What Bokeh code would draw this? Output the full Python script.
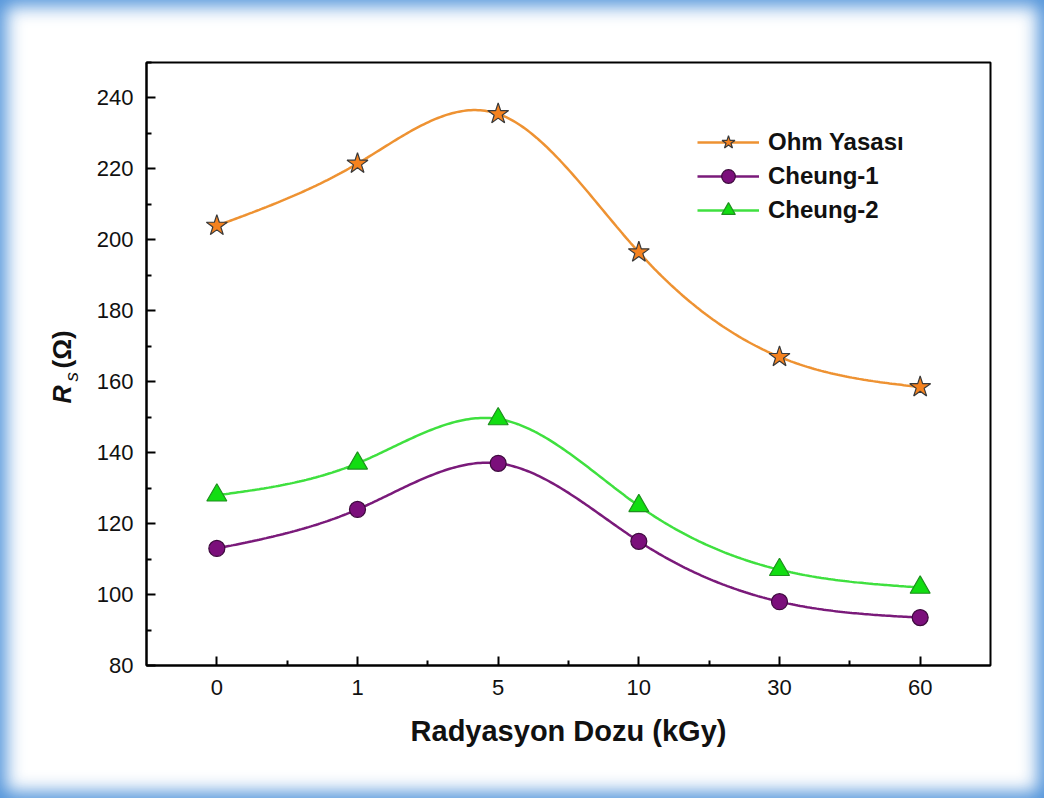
import numpy as np
from bokeh.plotting import figure
from bokeh.layouts import row
from bokeh.models import (FixedTicker, Label, Legend, LegendItem, Range1d)
from bokeh.embed import file_html
from bokeh.resources import INLINE

# ---- data ----
dose_labels = ["0", "1", "5", "10", "30", "60"]
ohm = [204.0, 221.5, 235.5, 196.5, 167.0, 158.5]
cheung1 = [113.0, 124.0, 137.0, 115.0, 98.0, 93.5]
cheung2 = [128.0, 137.0, 149.5, 125.0, 107.0, 102.0]
series_names = ["Ohm Yasası", "Cheung-1", "Cheung-2"]

xpos = np.arange(len(dose_labels), dtype=float)


def natural_spline(x, y, n=300):
    x = np.asarray(x, float)
    y = np.asarray(y, float)
    k = len(x)
    h = np.diff(x)
    A = np.zeros((k, k))
    b = np.zeros(k)
    A[0, 0] = 1.0
    A[-1, -1] = 1.0
    for i in range(1, k - 1):
        A[i, i - 1] = h[i - 1]
        A[i, i] = 2 * (h[i - 1] + h[i])
        A[i, i + 1] = h[i]
        b[i] = 6 * ((y[i + 1] - y[i]) / h[i] - (y[i] - y[i - 1]) / h[i - 1])
    M = np.linalg.solve(A, b)
    xs = np.linspace(x[0], x[-1], n)
    idx = np.clip(np.searchsorted(x, xs) - 1, 0, k - 2)
    x0, x1 = x[idx], x[idx + 1]
    hh = x1 - x0
    t0 = x1 - xs
    t1 = xs - x0
    ys = (M[idx] * t0 ** 3 / (6 * hh) + M[idx + 1] * t1 ** 3 / (6 * hh)
          + (y[idx] / hh - M[idx] * hh / 6) * t0
          + (y[idx + 1] / hh - M[idx + 1] * hh / 6) * t1)
    return xs, ys


FONT = "Liberation Sans"
W, H = 1044, 798
LEFT_W = 88
FRAME_BOTTOM = 665  # the two panels' frames are aligned by the row layout

# ---- narrow panel holding the y-axis title ----
lp = figure(width=LEFT_W, height=H, output_backend="svg", toolbar_location=None,
            x_axis_location=None, y_axis_location=None,
            x_range=Range1d(0, 1), y_range=Range1d(0, 1),
            min_border_left=0, min_border_right=0, min_border_top=0, min_border_bottom=0)
lp.border_fill_color = None
lp.background_fill_color = None
lp.outline_line_color = None
lp.grid.visible = False
ylab = [
    dict(text="R", dx=61, dy=FRAME_BOTTOM - 403, size="25px", style="bold italic"),
    dict(text="s", dx=71, dy=FRAME_BOTTOM - 381, size="19px", style="italic"),
    dict(text="(Ω)", dx=61, dy=FRAME_BOTTOM - 368, size="26px", style="bold"),
]
for d in ylab:
    lp.add_layout(Label(x=d["dx"], y=d["dy"], x_units="screen", y_units="screen",
                        text=d["text"], angle=np.pi / 2, text_align="left",
                        text_baseline="middle",
                        text_font=FONT, text_font_size=d["size"],
                        text_font_style=d["style"], text_color="#111111"))

# ---- main chart ----
p = figure(width=W - LEFT_W, height=H, output_backend="svg", toolbar_location=None,
           x_range=Range1d(-0.5, 5.5), y_range=Range1d(80, 250),
           frame_width=844, frame_height=603,
           min_border_left=146 - LEFT_W, min_border_right=54,
           min_border_top=62, min_border_bottom=133)
p.border_fill_color = None
p.background_fill_color = "white"
p.grid.visible = False
p.outline_line_color = "black"
p.outline_line_width = 2
p.outline_line_alpha = 1

xa = p.xaxis[0]
xa.ticker = FixedTicker(ticks=list(xpos), minor_ticks=list(xpos[:-1] + 0.5))
xa.major_label_overrides = {int(i): s for i, s in enumerate(dose_labels)}
ya = p.yaxis[0]
ya.ticker = FixedTicker(ticks=list(range(80, 241, 20)), minor_ticks=list(range(90, 251, 20)))
for ax in (xa, ya):
    ax.axis_line_width = 2
    ax.axis_line_color = "black"
    ax.major_tick_in = 9
    ax.major_tick_out = 0
    ax.minor_tick_in = 5
    ax.minor_tick_out = 0
    ax.major_tick_line_width = 2
    ax.minor_tick_line_width = 2
    ax.major_tick_line_color = "black"
    ax.minor_tick_line_color = "black"
    ax.major_label_text_font = FONT
    ax.major_label_text_font_size = "22px"
    ax.major_label_text_color = "#111111"
xa.major_label_standoff = 14
ya.major_label_standoff = 13
xa.axis_label = "Radyasyon Dozu (kGy)"
xa.axis_label_text_font = FONT
xa.axis_label_text_font_size = "29px"
xa.axis_label_text_font_style = "bold"
xa.axis_label_text_color = "#111111"
xa.axis_label_standoff = 17

styles = [
    dict(data=ohm, line="#ee9232", marker="star", fill="#f5821f", edge="#3a3a3a", size=22),
    dict(data=cheung1, line="#7a1a7a", marker="circle", fill="#7b0f7b", edge="#3d0a3d", size=16),
    dict(data=cheung2, line="#3fe03f", marker="triangle", fill="#12dd12", edge="#1f8f1f", size=20),
]
items = []
for name, st in zip(series_names, styles):
    sx, sy = natural_spline(xpos, st["data"])
    lr = p.line(sx, sy, line_color=st["line"], line_width=2.5)
    mr = p.scatter(xpos, st["data"], marker=st["marker"], size=st["size"],
                   fill_color=st["fill"], line_color=st["edge"], line_width=1.2)
    items.append(LegendItem(label=name, renderers=[lr, mr]))

legend = Legend(items=items, location=(551, 438))
legend.glyph_width = 62
legend.glyph_height = 34
legend.label_height = 20
legend.spacing = 0
legend.padding = 0
legend.margin = 0
legend.label_standoff = 9
legend.border_line_color = None
legend.background_fill_alpha = 0
legend.label_text_font = FONT
legend.label_text_font_size = "24px"
legend.label_text_font_style = "bold"
legend.label_text_color = "#111111"
p.add_layout(legend, "center")

layout = row(lp, p, spacing=0)
layout.styles = {"box-shadow": "inset 0 0 18px 6px rgba(70,140,215,0.95)"}

open("out.html", "w").write(file_html(layout, INLINE))
